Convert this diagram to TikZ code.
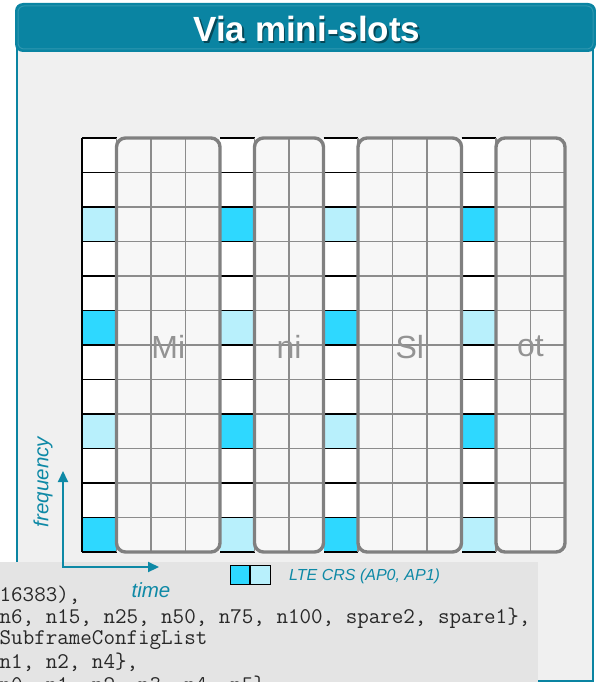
\documentclass[tikz,border=0pt]{standalone}
\usepackage{fontspec}
\setmainfont{Liberation Sans}
\usetikzlibrary{arrows.meta,positioning}
\definecolor{hdr}{RGB}{10,132,162}
\definecolor{axis}{RGB}{14,137,166}
\definecolor{panel}{RGB}{240,240,240}
\definecolor{codebg}{RGB}{228,228,228}
\definecolor{crsd}{RGB}{46,216,255}
\definecolor{crsl}{RGB}{184,240,252}
\definecolor{slotbg}{RGB}{247,247,247}
\definecolor{slotln}{RGB}{140,140,140}
\definecolor{slotrim}{RGB}{128,128,128}
\definecolor{codetx}{RGB}{40,40,40}
\tikzset{
  cell/.style={line width=1.2pt},
  slotbox/.style={draw=slotrim,line width=3.4pt,rounded corners=9pt},
  slotname/.style={font=\fontsize{32}{32}\selectfont,text=slotrim!85},
  axlabel/.style={font=\fontsize{20.5}{20.5}\selectfont\itshape,text=axis,inner sep=0pt},
  codeline/.style={font=\ttfamily\fontsize{22.4}{22.4}\selectfont,text=codetx,anchor=west,inner sep=0pt}
}
\newcommand{\cw}{34.5}

\begin{document}
\begin{tikzpicture}[x=1pt,y=-1pt]
  \useasboundingbox (0,0) rectangle (596,682);
  \clip (0,0) rectangle (596,682);
  % panel and header
  \draw[hdr,line width=1.6pt,fill=panel] (17,40) rectangle (593,681);
  \fill[hdr,rounded corners=8pt] (15,3) rectangle (596,52);
  \draw[white,opacity=0.15,line width=1pt,rounded corners=6pt] (18,6) rectangle (593,49);
  \node[font=\bfseries\fontsize{35}{35}\selectfont,text=black,opacity=0.45] (titsh) at (308.5,30.5) {Via mini-slots};
  \node[font=\bfseries\fontsize{35}{35}\selectfont,text=white] (title) at (307,29) {Via mini-slots};
  % the grid, origin at (82,138)
  \begin{scope}[shift={(82,138)}]
    % CRS columns
    \foreach \c/\a/\b in {0/crsl/crsd,4/crsd/crsl,7/crsl/crsd,11/crsd/crsl} {
      \fill[white] (\c*\cw,0) rectangle ({(\c+1)*\cw},12*\cw);
      \foreach \r in {2,8} \fill[\a] (\c*\cw,\r*\cw) rectangle ({(\c+1)*\cw},{(\r+1)*\cw});
      \foreach \r in {5,11} \fill[\b] (\c*\cw,\r*\cw) rectangle ({(\c+1)*\cw},{(\r+1)*\cw});
      \foreach \r in {0,...,12} \draw[cell] (\c*\cw,\r*\cw) -- ({(\c+1)*\cw},\r*\cw);
    }
    \draw[cell] (0,0) -- (0,12*\cw);
    % mini-slots
    \foreach \s/\n/\t in {1/3/Mi,5/2/ni,8/3/Sl,12/2/ot} {
      \fill[slotbg] (\s*\cw,0) rectangle ({(\s+\n)*\cw},12*\cw);
      \foreach \r in {1,...,11} \draw[slotln,line width=1.2pt] (\s*\cw,\r*\cw) -- ({(\s+\n)*\cw},\r*\cw);
      \foreach \k in {1,...,\n} \draw[slotln,line width=1.2pt] ({(\s+\k-1)*\cw},0) -- ({(\s+\k-1)*\cw},12*\cw);
      \draw[slotbox] (\s*\cw,0) rectangle ({(\s+\n)*\cw},12*\cw);
      \node[slotname] (sl\t) at ({(\s+\n/2)*\cw},6.05*\cw) {\t};
    }
  \end{scope}
  % configuration text below
  \fill[codebg] (0,562) rectangle (538,690);
  \foreach \y/\l/\txt in {595/a/{16383),},618/b/{n6, n15, n25, n50, n75, n100, spare2, spare1\},},640/c/{SubframeConfigList},662/d/{n1, n2, n4\},},685/e/{n0, n1, n2, n3, n4, n5\}}}
    \node[codeline] (code\l) at (-0.5,\y) {\txt};
  % axes
  \coordinate (org) at (63,567);
  \coordinate (ftip) at (63,471);
  \coordinate (ttip) at (159,567);
  \draw[axis,line width=2.2pt,{Triangle[length=11pt,width=10pt]}-{Triangle[length=11pt,width=10pt]}] (ftip) |- (ttip);
  \node[axlabel,rotate=90] (freq) at (43,482) {frequency};
  \node[axlabel] (time) at (151,590) {time};
  % legend
  \node[draw,line width=1pt,fill=crsd,minimum width=19pt,minimum height=19pt,inner sep=0pt] (lgd) at (239.5,574.5) {};
  \node[draw,line width=1pt,fill=crsl,minimum width=20pt,minimum height=19pt,inner sep=0pt,right=0pt of lgd] (lgl) {};
  \node[font=\itshape\fontsize{16}{16}\selectfont,text=axis,anchor=west,inner sep=0pt] (lgt) at (289,576) {LTE CRS (AP0, AP1)};
\end{tikzpicture}
\end{document}
